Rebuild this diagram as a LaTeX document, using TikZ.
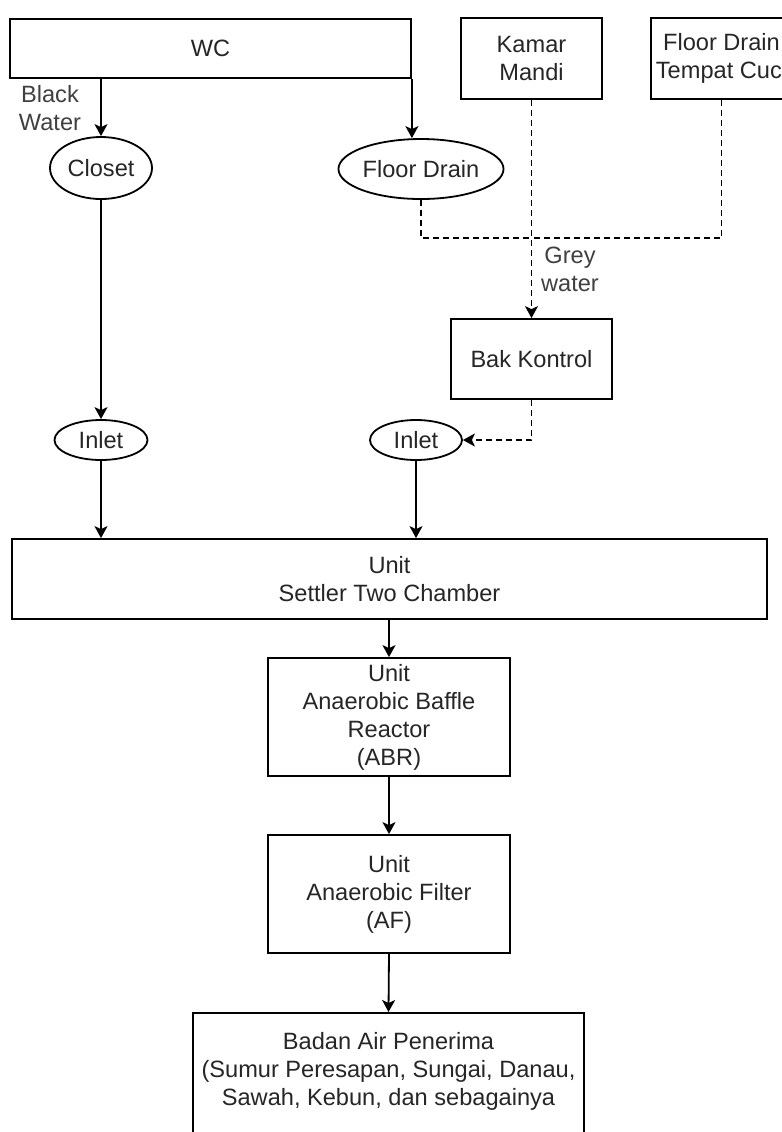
\documentclass[tikz,border=0pt]{standalone}
\usepackage{fontspec}
\setmainfont{Liberation Sans}
\usetikzlibrary{shapes.geometric,arrows.meta}
\begin{document}
\begin{tikzpicture}[x=0.5pt,y=-0.5pt,
  every node/.style={font=\fontsize{11.8pt}{14pt}\selectfont, text=black!85, align=center, inner sep=0pt},
  box/.style={draw=black, line width=0.9pt, rectangle},
  oval/.style={draw=black, line width=0.9pt, ellipse},
  lbl/.style={text=black!75},
  arr/.style={draw=black, line width=0.9pt, -{Stealth[length=6pt,width=6.5pt,inset=1.5pt]}},
  dline/.style={draw=black, line width=0.8pt, dash pattern=on 3pt off 2pt},
  darr/.style={dline, -{Stealth[length=6pt,width=6.5pt,inset=1.5pt]}}]
\useasboundingbox (0,0) rectangle (782,1132);
\clip (0,0) rectangle (782,1132);
\fill[white] (0,0) rectangle (782,1132);

% nodes
\node[box, minimum width=401*0.5pt, minimum height=59*0.5pt] (wc) at (210.5,48.5) {WC};
\node[box, minimum width=141*0.5pt, minimum height=81*0.5pt] (km) at (531.5,58.5) {Kamar\\Mandi};
\node[box, minimum width=141*0.5pt, minimum height=81*0.5pt] (fdt) at (721.5,58.5) {Floor Drain\\Tempat Cuci};
\node[oval, minimum width=102*0.5pt, minimum height=62*0.5pt] (closet) at (101,168) {Closet};
\node[oval, minimum width=141*0.5pt, minimum height=60*0.5pt] (fd) at (421,169) {Floor Drain};
\node[lbl] (bw) at (50,108.5) {Black\\Water};
\node[lbl] (gw) at (570,269) {Grey\\water};
\coordinate (jn) at (531.5,238);
\node[box, minimum width=161*0.5pt, minimum height=80*0.5pt] (bak) at (531.5,359) {Bak Kontrol};
\node[oval, minimum width=93*0.5pt, minimum height=40*0.5pt] (in1) at (101,440) {Inlet};
\node[oval, minimum width=92*0.5pt, minimum height=40*0.5pt] (in2) at (416,440) {Inlet};
\node[box, minimum width=755*0.5pt, minimum height=80*0.5pt] (settler) at (389.5,579) {Unit\\Settler Two Chamber};
\node[box, minimum width=242*0.5pt, minimum height=118*0.5pt] (abr) at (389,717) {Unit\\Anaerobic Baffle\\Reactor\\(ABR)};
\node[box, minimum width=242*0.5pt, minimum height=118*0.5pt] (af) at (389,894) {Unit\\Anaerobic Filter\\(AF)};
\node[box, minimum width=391*0.5pt, minimum height=160*0.5pt, anchor=north] (badan) at (388.5,1012) {};
\node (badantext) at (388.5,1071) {Badan Air Penerima\\(Sumur Peresapan, Sungai, Danau,\\Sawah, Kebun, dan sebagainya};

% connectors
\draw[arr] (wc.south -| closet.north) -- (closet.north);
\draw[arr] (wc.south east) -- (wc.south east |- fd.north);
\draw[dline] (fd.south) -- (fd.south |- jn) -- (jn);
\draw[dline] (fdt.south) -- (fdt.south |- jn) -- (jn);
\draw[darr] (km.south) -- (bak.north);
\draw[darr] (bak.south) -- (bak.south |- in2.east) -- (in2.east);
\draw[arr] (closet.south) -- (in1.north);
\draw[arr] (in1.south) -- (in1.south |- settler.north);
\draw[arr] (in2.south) -- (in2.south |- settler.north);
\draw[arr] (settler.south -| abr.north) -- (abr.north);
\draw[arr] (abr.south) -- (af.north);
\draw[arr] (af.south) -- (badan.north);
\end{tikzpicture}
\end{document}
